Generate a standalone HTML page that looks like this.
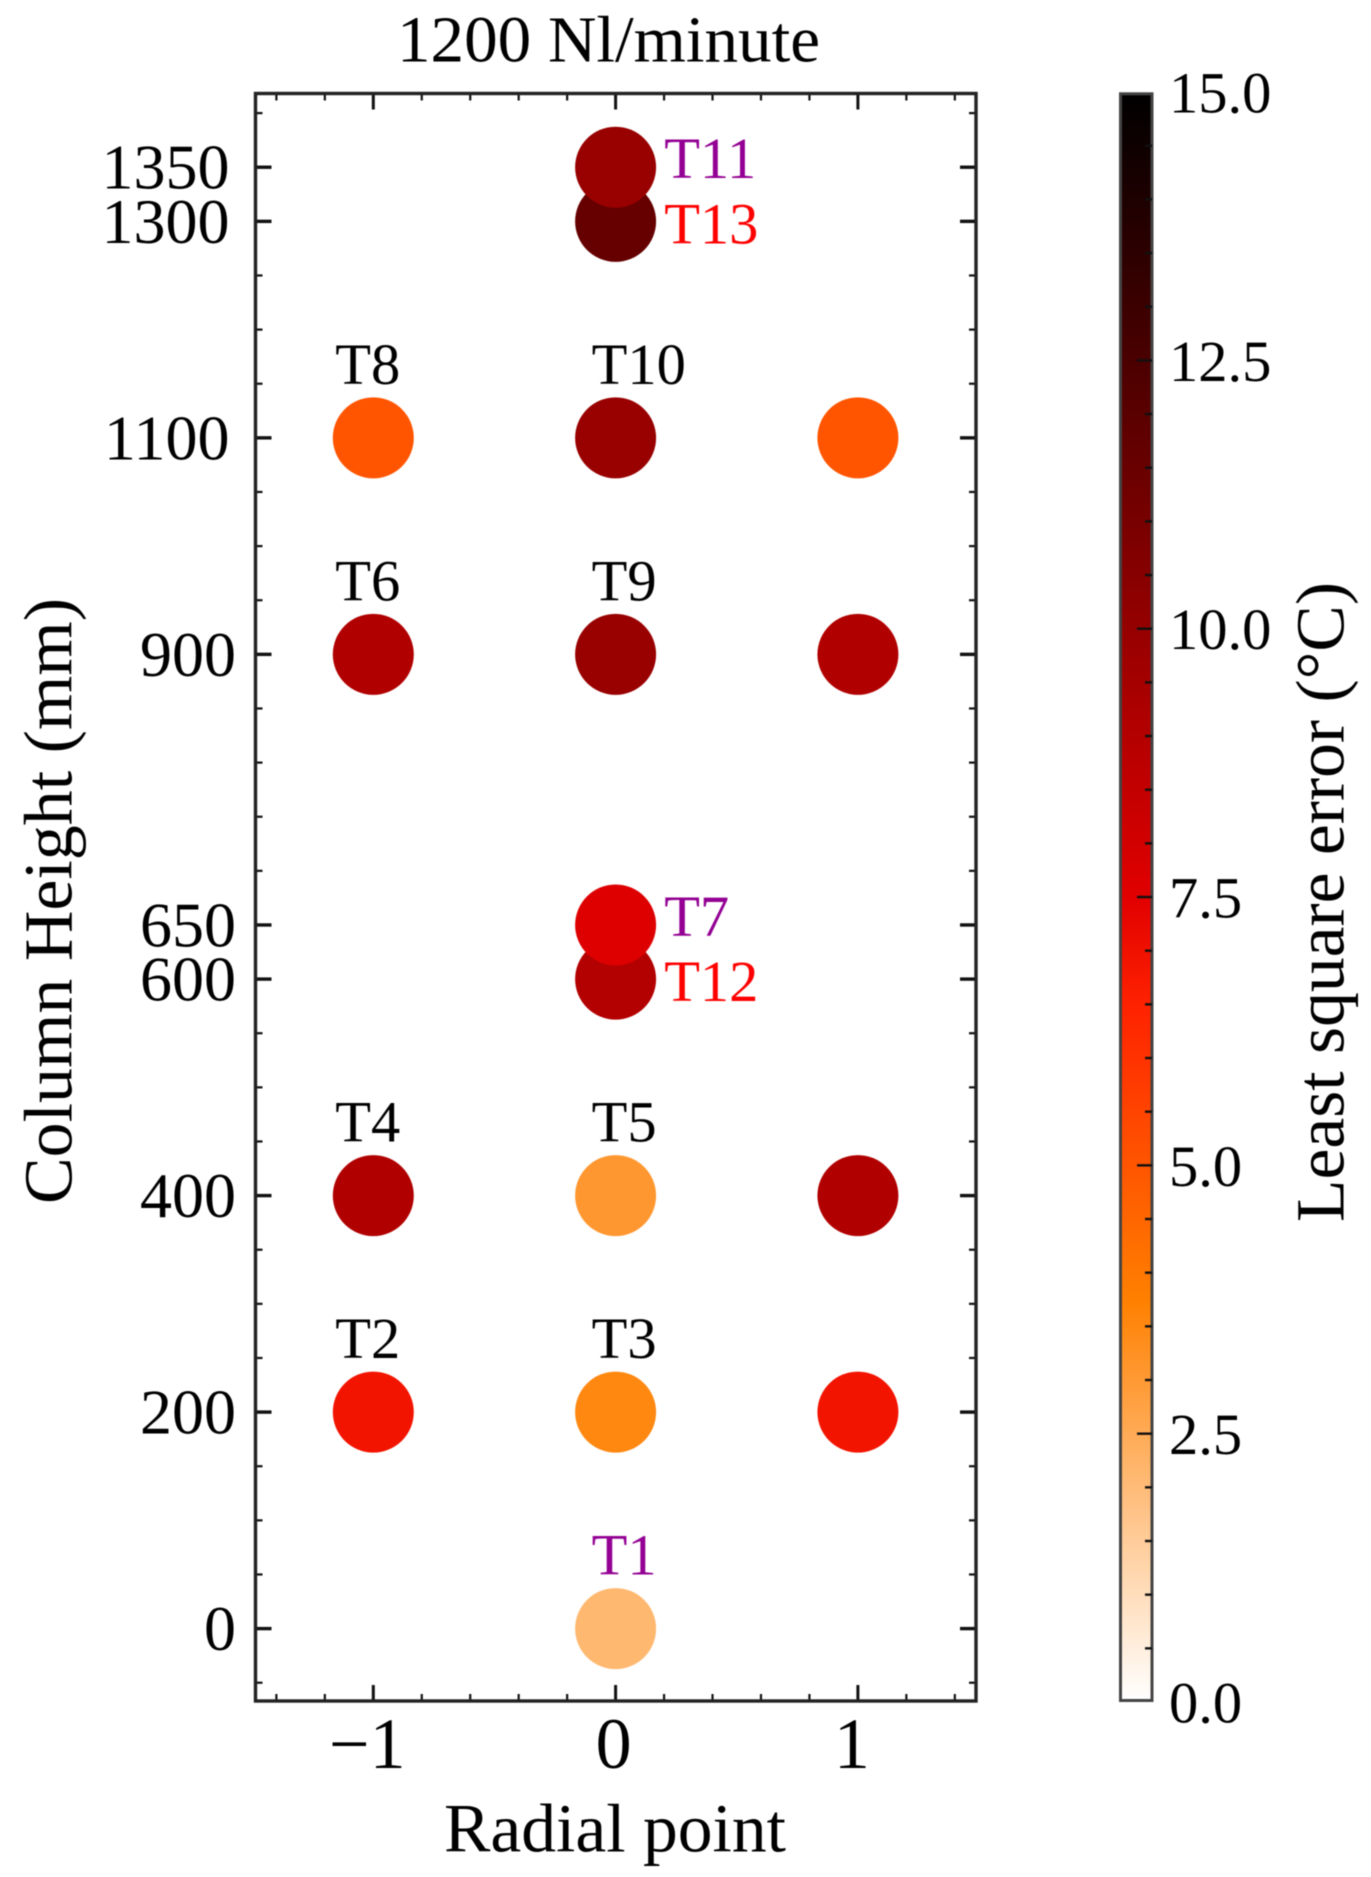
<!DOCTYPE html>
<html lang="en">
<head>
<meta charset="utf-8">
<title>1200 Nl/minute</title>
<style>
html,body{margin:0;padding:0;background:#fff;width:1371px;height:1877px;overflow:hidden}
svg{display:block;filter:blur(0.6px)}
text{font-family:"Liberation Serif","Times New Roman",serif;fill:#000}
</style>
</head>
<body>
<svg id="chart" xmlns="http://www.w3.org/2000/svg" width="1371" height="1877" viewBox="0 0 1371 1877">
<defs>
<linearGradient id="cbar-gradient" x1="0" y1="1" x2="0" y2="0"></linearGradient>
</defs>
<rect x="0" y="0" width="1371" height="1877" fill="#fff"/>
<text x="397" y="61.5" font-size="66" textLength="423" lengthAdjust="spacingAndGlyphs">1200 Nl/minute</text>
<text x="444" y="1851.5" font-size="69" textLength="342" lengthAdjust="spacingAndGlyphs">Radial point</text>
<text transform="translate(71.5,1204) rotate(-90)" font-size="69" textLength="606" lengthAdjust="spacingAndGlyphs">Column Height (mm)</text>
<text transform="translate(1343.5,1222) rotate(-90)" font-size="69" textLength="640" lengthAdjust="spacingAndGlyphs">Least square error (°C)</text>
<g id="ticks"></g>
<g id="marks"></g>
<rect x="255.5" y="93.5" width="720.5" height="1607.5" fill="none" stroke="#222" stroke-width="3.4"/>
<g id="colorbar"></g>
</svg>
<script>
const sensorNames = ['T13','T11','T8','T10','','T6','T9','','T12','T7','T4','T5','','T2','T3','','T1'];
const radialPoints = [0,0,-1,0,1,-1,0,1,0,0,-1,0,1,-1,0,1,0];
const columnHeights = [1300,1350,1100,1100,1100,900,900,900,600,650,400,400,400,200,200,200,0];
const squareErrors = [11.6,9.9,5.0,9.9,5.0,9.1,9.9,9.1,9.05,7.6,9.1,3.05,9.1,6.9,3.5,6.9,2.1];
const purpleSensors = ['T1','T7','T11'];
const redSensors = ['T12','T13'];
const sideUpperSensors = ['T7','T11'];
const sideLowerSensors = ['T12','T13'];
const xTickValues = [-1,0,1];
const xTickLabels = ['\u22121','0','1'];
const yTickValues = [0,200,400,600,650,900,1100,1300,1350];
const yTickLabels = ['0','200','400','600','650','900','1100','1300','1350'];
const colorbarTickValues = [0,2.5,5,7.5,10,12.5,15];
const colorbarTickLabels = ['0.0','2.5','5.0','7.5','10.0','12.5','15.0'];

const NS = 'http://www.w3.org/2000/svg';
const xScale = v => 615.6 + 242.3 * v;
const yScale = v => 1628.6 - 1.0825 * v;
const cScale = v => 1702 - 107.33 * v;
const clip = v => Math.max(0, Math.min(1, v));
function colorFor(v) {
  const r = Math.round(255 * clip((15 - v) / 8.5));
  const g = Math.round(255 * clip(1 - v / 7.5));
  const b = Math.round(255 * clip(1 - v / 3.75));
  return 'rgb(' + r + ',' + g + ',' + b + ')';
}
function make(parent, tag, attrs, text) {
  const el = document.createElementNS(NS, tag);
  for (const k in attrs) el.setAttribute(k, attrs[k]);
  if (text !== undefined) el.textContent = text;
  parent.appendChild(el);
  return el;
}

const ticks = document.getElementById('ticks');
const marks = document.getElementById('marks');
const colorbar = document.getElementById('colorbar');
const gradient = document.getElementById('cbar-gradient');
const L = 255.5, R = 976, T = 93.5, B = 1701;
const MAJOR = 16, MINOR = 7;

function xTick(v, len, w) {
  const a = make(ticks, 'line', {x1: xScale(v), x2: xScale(v), y1: B, y2: B - len, stroke: '#111', 'stroke-width': w});
  
  
  const b = make(ticks, 'line', {x1: xScale(v), x2: xScale(v), y1: T, y2: T + len, stroke: '#111', 'stroke-width': w});
  
  
}
function yTick(v, len, w) {
  const a = make(ticks, 'line', {x1: L, x2: L + len, y1: yScale(v), y2: yScale(v), stroke: '#111', 'stroke-width': w});
  
  
  const b = make(ticks, 'line', {x1: R, x2: R - len, y1: yScale(v), y2: yScale(v), stroke: '#111', 'stroke-width': w});
  
  
}

for (let i = -7; i <= 7; i++) {
  const v = i / 5;
  if (i % 5 !== 0) xTick(v, MINOR, 2.2);
}
xTickValues.forEach((v, i) => {
  xTick(v, MAJOR, 3);
  const dx = v === 0 ? -2 : -6;
  const t = make(ticks, 'text', {x: xScale(v) + dx, y: 1768, 'font-size': 72, 'text-anchor': 'middle'}, xTickLabels[i]);
  
  
});
for (let v = -50; v <= 1400; v += 50) {
  if (!yTickValues.includes(v)) yTick(v, MINOR, 2.2);
}
yTickValues.forEach((v, i) => {
  yTick(v, MAJOR, 3.4);
  const right = v >= 1000 ? 229.5 : 236;
  const t = make(ticks, 'text', {x: right, y: yScale(v) + 21.5, 'font-size': 64, 'text-anchor': 'end'}, yTickLabels[i]);
  
  
});

sensorNames.forEach((name, i) => {
  const cx = xScale(radialPoints[i]);
  const cy = yScale(columnHeights[i]);
  const dot = make(marks, 'circle', {cx: cx, cy: cy, r: 40.5, fill: colorFor(squareErrors[i])});
  
  
});
sensorNames.forEach((name, i) => {
  if (!name) return;
  const cx = xScale(radialPoints[i]);
  const cy = yScale(columnHeights[i]);
  let tx = cx + (radialPoints[i] === 0 ? -24 : -38);
  let ty = cy - 54;
  if (sideUpperSensors.includes(name)) { tx = cx + 48.6; ty = cy + 11; }
  if (sideLowerSensors.includes(name)) { tx = cx + 48.6; ty = cy + 22; }
  const fill = purpleSensors.includes(name) ? '#930093' : redSensors.includes(name) ? '#ff0000' : '#000';
  const t = make(marks, 'text', {x: tx, y: ty, 'font-size': 58.5, style: 'fill:' + fill}, name);
  
  
});

for (let s = 0; s <= 60; s++) {
  const v = s / 4;
  make(gradient, 'stop', {offset: s / 60, 'stop-color': colorFor(v)});
}
const bar = make(colorbar, 'rect', {x: 1120.5, y: 93.8, width: 31.5, height: 1606.7, fill: 'url(#cbar-gradient)', stroke: '#444', 'stroke-width': 3});


for (let i = 1; i < 30; i++) {
  const v = i / 2;
  const isMajor = i % 5 === 0;
  const tk = make(colorbar, 'line', {x1: 1152, x2: 1152 - (isMajor ? 15 : 7), y1: cScale(v), y2: cScale(v), stroke: '#111', 'stroke-width': 2.4});
  
  
}
colorbarTickValues.forEach((v, i) => {
  const t = make(colorbar, 'text', {x: 1169, y: cScale(v) + 20.5, 'font-size': 58.5}, colorbarTickLabels[i]);
  
  
});
</script>
</body>
</html>
